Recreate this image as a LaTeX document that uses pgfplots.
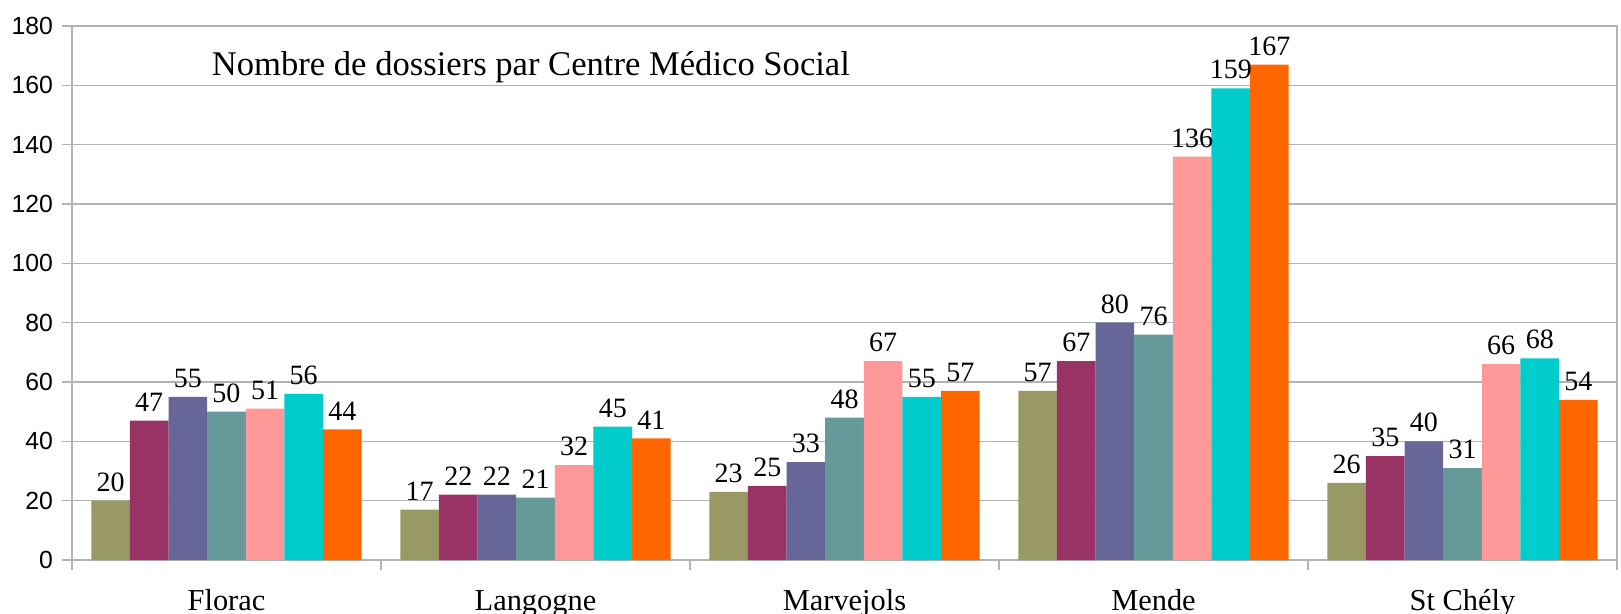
\documentclass[border=0pt]{standalone}
\usepackage{pgfplots}
\pgfplotsset{compat=1.18}
\usepackage{fontspec}
\setmainfont{Liberation Serif}
\newfontfamily\arial{Liberation Sans}
\definecolor{c1}{HTML}{999966}
\definecolor{c2}{HTML}{993366}
\definecolor{c3}{HTML}{666699}
\definecolor{c4}{HTML}{669999}
\definecolor{c5}{HTML}{FF9999}
\definecolor{c6}{HTML}{00CCCC}
\definecolor{c7}{HTML}{FF6600}
\definecolor{gridgray}{HTML}{B3B3B3}
\begin{document}
\begin{tikzpicture}
\begin{axis}[
  scale only axis,
  width=772.5pt, height=267pt,
  xmin=-0.5, xmax=4.5, ymin=0, ymax=180,
  ybar=0pt, bar width=0.125,
  xtick={0,1,2,3,4},
  xticklabels={Florac,Langogne,Marvejols,Mende,St Chély},
  major x tick style={draw=none},
  minor xtick={-0.5,0.5,1.5,2.5,3.5,4.5},
  minor x tick style={gridgray, line width=0.8pt},
  minor tick length=5pt,
  xtick pos=bottom, ytick pos=left,
  ytick={0,20,...,180},
  major tick length=5pt,
  tick align=outside,
  axis line style={gridgray, line width=0.8pt},
  ymajorgrids,
  major grid style={gridgray, line width=0.8pt},
  ytick style={gridgray, line width=0.8pt},
  /pgf/number format/assume math mode=true,
  yticklabel style={font=\arial\fontsize{12.4}{14}\selectfont, xshift=-1pt},
  xticklabel style={font=\fontsize{15.2}{17}\selectfont, anchor=base, yshift=-20pt},
  nodes near coords,
  every node near coord/.append style={font=\fontsize{14}{16}\selectfont, black, yshift=1pt},
  clip=false,
  axis on top=false,
]
\addplot[fill=c1, draw=none] coordinates {(0,20) (1,17) (2,23) (3,57) (4,26)};
\addplot[fill=c2, draw=none] coordinates {(0,47) (1,22) (2,25) (3,67) (4,35)};
\addplot[fill=c3, draw=none] coordinates {(0,55) (1,22) (2,33) (3,80) (4,40)};
\addplot[fill=c4, draw=none] coordinates {(0,50) (1,21) (2,48) (3,76) (4,31)};
\addplot[fill=c5, draw=none] coordinates {(0,51) (1,32) (2,67) (3,136) (4,66)};
\addplot[fill=c6, draw=none] coordinates {(0,56) (1,45) (2,55) (3,159) (4,68)};
\addplot[fill=c7, draw=none] coordinates {(0,44) (1,41) (2,57) (3,167) (4,54)};
\node[anchor=base west, font=\fontsize{17.3}{20}\selectfont, inner sep=0pt] at (rel axis cs:0.0903,0.9082) {Nombre de dossiers par Centre Médico Social};
\coordinate (bbSW) at (rel axis cs:-0.0466,-0.1011);
\coordinate (bbNE) at (rel axis cs:1.0026,1.0487);
\end{axis}
\pgfresetboundingbox
\path (bbSW) rectangle (bbNE);
\end{tikzpicture}
\end{document}
